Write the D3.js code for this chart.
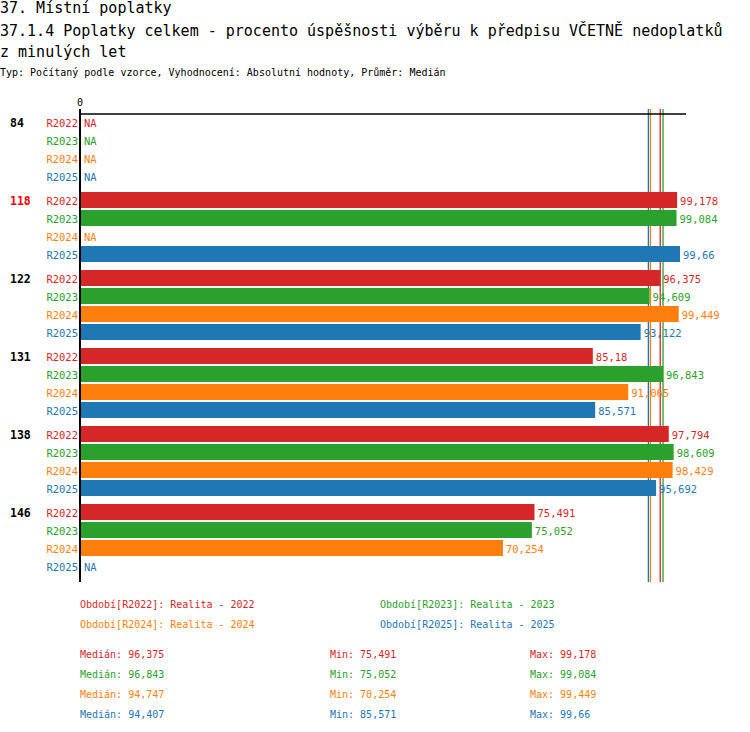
<!DOCTYPE html>
<html>
<head>
<meta charset="utf-8">
<script src="https://cdn.jsdelivr.net/npm/d3@7"></script>
<style>
  body { margin: 0; background: #fff; }
  text { font-family: "DejaVu Sans Mono", monospace; }
</style>
</head>
<body>
<svg id="chart" width="750" height="732"></svg>
<script>
const groups = ["84", "118", "122", "131", "138", "146"];
const periods = ["R2022", "R2023", "R2024", "R2025"];
const colors = ["#d62728", "#2ca02c", "#ff7f0e", "#1f77b4"];
// values per group, in period order; null = NA
const values = [
  [null, null, null, null],
  [99.178, 99.084, null, 99.66],
  [96.375, 94.609, 99.449, 93.122],
  [85.18, 96.843, 91.065, 85.571],
  [97.794, 98.609, 98.429, 95.692],
  [75.491, 75.052, 70.254, null],
];
const highlighted = "118";
const legendLabels = ["Období[R2022]: Realita - 2022", "Období[R2023]: Realita - 2023",
  "Období[R2024]: Realita - 2024", "Období[R2025]: Realita - 2025"];

const fmt = (v) => String(v).replace(".", ",");

let svg = d3.select("#chart");

// titles
svg.append("text").attr("x", 0).attr("y", 13).style("font-size", "15px").text("37. Místní poplatky");
svg.append("text").attr("x", 0).attr("y", 36).style("font-size", "15px")
  .text("37.1.4 Poplatky celkem - procento úspěšnosti výběru k předpisu VČETNĚ nedoplatků");
svg.append("text").attr("x", 0).attr("y", 57).style("font-size", "15px").text("z minulých let");
svg.append("text").attr("x", 0).attr("y", 76).style("font-size", "10px")
  .text("Typ: Počítaný podle vzorce, Vyhodnocení: Absolutní hodnoty, Průměr: Medián");

let x = d3.scaleLinear().domain([0, d3.max(values.flat()) * 1.01]).range([80, 686]);

const rowH = 18, groupGap = 6, topY = 114;
let groupY = (gi) => topY + gi * (4 * rowH + groupGap);
let rowY = (gi, pi) => groupY(gi) + pi * rowH;

// median lines
let medians = periods.map((p, pi) => d3.median(values.map((r) => r[pi]).filter((v) => v != null)));
let mins = periods.map((p, pi) => d3.min(values.map((r) => r[pi]).filter((v) => v != null)));
let maxs = periods.map((p, pi) => d3.max(values.map((r) => r[pi]).filter((v) => v != null)));

svg.selectAll("line.median")
  .data(medians)
  .enter()
  .append("line")
  .attr("class", "median")
  .attr("x1", (d) => x(d)).attr("x2", (d) => x(d))
  .attr("y1", 109).attr("y2", 582)
  .style("stroke", (d, i) => colors[i])
  .style("stroke-width", 1.3);

// axes
svg.append("line").attr("x1", x(0)).attr("x2", 686).attr("y1", topY).attr("y2", topY)
  .style("stroke", "#000").style("stroke-width", 1.3);
svg.append("line").attr("x1", x(0)).attr("x2", x(0)).attr("y1", 109).attr("y2", 582)
  .style("stroke", "#000").style("stroke-width", 2);
svg.append("text").attr("x", x(0)).attr("y", 106).attr("text-anchor", "middle")
  .style("font-size", "10px").text("0");

// groups
let g = svg.selectAll("g.group")
  .data(groups)
  .enter()
  .append("g")
  .attr("class", "group");

g.append("text")
  .attr("x", 10)
  .attr("y", (d, gi) => rowY(gi, 0) + 13)
  .style("font-size", "11.5px")
  .style("font-weight", "bold")
  .style("fill", (d) => (d === highlighted ? "#ff0000" : "#000"))
  .text((d) => d);

groups.forEach((grp, gi) => {
  periods.forEach((p, pi) => {
    let v = values[gi][pi];
    let y0 = rowY(gi, pi);
    svg.append("text")
      .attr("x", 78).attr("y", y0 + 13)
      .attr("text-anchor", "end")
      .style("font-size", "10.5px")
      .style("fill", colors[pi])
      .text(p);
    if (v == null) {
      svg.append("text")
        .attr("x", 84).attr("y", y0 + 13)
        .style("font-size", "10.5px")
        .style("fill", colors[pi])
        .text("NA");
      return;
    }
    svg.append("rect")
      .attr("x", x(0) + 1).attr("y", y0)
      .attr("width", x(v) - x(0) - 1).attr("height", 16)
      .style("fill", colors[pi]);
    svg.append("text")
      .attr("x", x(v) + 3).attr("y", y0 + 13)
      .style("font-size", "10.5px")
      .style("fill", colors[pi])
      .text(fmt(v));
  });
});

// legend
legendLabels.forEach((t, i) => {
  svg.append("text")
    .attr("x", i % 2 === 0 ? 80 : 380)
    .attr("y", 608 + Math.floor(i / 2) * 20)
    .style("font-size", "10px")
    .style("fill", colors[i])
    .text(t);
});

// stats
periods.forEach((p, i) => {
  let y = 658 + i * 20;
  svg.append("text").attr("x", 80).attr("y", y).style("font-size", "10px")
    .style("fill", colors[i]).text("Medián: " + fmt(+medians[i].toFixed(3)));
  svg.append("text").attr("x", 330).attr("y", y).style("font-size", "10px")
    .style("fill", colors[i]).text("Min: " + fmt(mins[i]));
  svg.append("text").attr("x", 530).attr("y", y).style("font-size", "10px")
    .style("fill", colors[i]).text("Max: " + fmt(maxs[i]));
});
</script>
</body>
</html>
